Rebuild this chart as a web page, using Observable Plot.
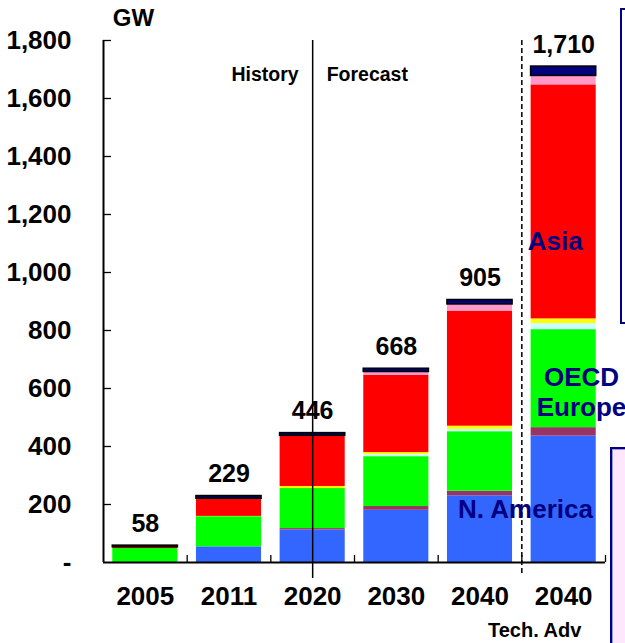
<!DOCTYPE html>
<html>
<head>
<meta charset="utf-8">
<script src="https://cdn.jsdelivr.net/npm/d3@7"></script>
<script src="https://cdn.jsdelivr.net/npm/@observablehq/plot@0.6"></script>
<style>
  html, body { margin: 0; padding: 0; background: white; overflow: hidden; }
  #wrap { position: relative; width: 625px; height: 643px; }
  .box { position: absolute; box-sizing: border-box; }
</style>
</head>
<body>
<div id="wrap"></div>
<script>
// Categories (x positions are indices 0..5)
const categories = ["2005", "2011", "2020", "2030", "2040", "2040"];
const subLabels = ["", "", "", "", "", "Tech. Adv"];
const totals = [58, 229, 446, 668, 905, 1710];

// Series (stack order bottom -> top), GW
const seriesNames = ["N. America", "Latin America", "OECD Europe", "Eurasia", "Middle East", "Asia", "OECD Pacific", "Other"];
const seriesColors = ["#3366FF", "#993366", "#00FF00", "#CCFFFF", "#FFFF00", "#FF0000", "#FF99CC", "#000080"];
const nAmerica     = [0,   54,  112, 180, 230, 436];
const latinAmerica = [0,   0,   5,   13,  16,  29];
const oecdEurope   = [48,  104, 138, 172, 205, 338];
const eurasia      = [0,   0,   0,   7,   8,   21];
const middleEast   = [0,   1,   7,   7,   11,  16];
const asia         = [5,   61,  175, 267, 397, 807];
const oecdPacific  = [0,   0,   0,   11,  23,  31];
const other        = [5,   9,   9,   11,  15,  32];
const seriesValues = [nAmerica, latinAmerica, oecdEurope, eurasia, middleEast, asia, oecdPacific, other];

const yTicks = [0, 200, 400, 600, 800, 1000, 1200, 1400, 1600, 1800];

// Inline region labels (x index, y GW)
const regionLabels = [
  {text: "Asia", x: 4.9, y: 1110},
  {text: "OECD\nEurope", x: 5.213, y: 590},
  {text: "N. America", x: 4.544, y: 186}
];

// Build stacked rectangles
const half = 0.389;
const segs = [];
categories.forEach((c, i) => {
  let acc = 0;
  seriesValues.forEach((vals, s) => {
    const v = vals[i];
    if (v > 0) {
      segs.push({i, series: seriesNames[s], color: seriesColors[s], y1: acc, y2: acc + v, isTop: s === seriesValues.length - 1});
    }
    acc += v;
  });
});

const idx = categories.map((c, i) => i);
const fmt = d => d === 0 ? "-" : d3.format(",")(d);
const boundaries = [0.5, 1.5, 2.5, 3.5, 4.5, 5.5];

const chart = Plot.plot({
  width: 625,
  height: 643,
  marginTop: 40,
  marginBottom: 81,
  marginLeft: 103,
  marginRight: 20,
  x: {domain: [-0.5, 5.5], axis: null},
  y: {domain: [0, 1800], axis: null},
  style: {fontFamily: "'Liberation Sans', Arial, sans-serif", fontWeight: "bold", background: "white", color: "black", overflow: "visible"},
  marks: [
    Plot.rectY(segs.filter(d => !d.isTop), {x1: d => d.i - half, x2: d => d.i + half, y1: "y1", y2: "y2", fill: "color"}),
    Plot.rectY(segs.filter(d => d.isTop), {x1: d => d.i - half, x2: d => d.i + half, y1: "y1", y2: "y2", fill: "color", stroke: "black", strokeWidth: 1.6}),
    // axes
    Plot.ruleX([-0.5], {y1: 0, y2: 1800, stroke: "black", strokeWidth: 2}),
    Plot.ruleY([0], {x1: -0.5, x2: 5.5, stroke: "black", strokeWidth: 2}),
    Plot.ruleY(yTicks.filter(d => d > 0), {x1: -0.5, x2: -0.5 + 8 / 83.67, stroke: "black", strokeWidth: 1.3}),
    Plot.ruleX(boundaries, {y1: 0, y2: 24, stroke: "black", strokeWidth: 1.3}),
    Plot.text(yTicks, {x: -0.5, y: d => d, text: fmt, textAnchor: "end", dx: -32, fontSize: 26, fontWeight: "bold", fill: "black"}),
    Plot.text(["GW"], {x: -0.5, y: 1800, text: d => d, dx: 30, dy: -22.5, fontSize: 24, fontWeight: "bold", fill: "black"}),
    // x labels
    Plot.text(idx, {x: d => d, y: 0, text: d => categories[d], dy: 34.5, fontSize: 26, fontWeight: "bold", fill: "black"}),
    Plot.text(idx.filter(d => subLabels[d]), {x: d => d, y: 0, text: d => subLabels[d], dx: -29, dy: 68, fontSize: 20, fontWeight: "bold", fill: "black"}),
    // history / forecast separators
    Plot.ruleX([2], {y1: 1800, y2: -55, stroke: "black", strokeWidth: 1.5}),
    Plot.ruleX([4.5], {y1: 1800, y2: -45, stroke: "black", strokeWidth: 1.5, strokeDasharray: "5,3"}),
    Plot.text(["History"], {x: 2, y: 1800, text: d => d, textAnchor: "end", dx: -14, dy: 34.5, fontSize: 19.5, fontWeight: "bold", fill: "black"}),
    Plot.text(["Forecast"], {x: 2, y: 1800, text: d => d, textAnchor: "start", dx: 14, dy: 34.5, fontSize: 19.5, fontWeight: "bold", fill: "black"}),
    // totals
    Plot.text(idx, {x: d => d, y: d => totals[d], text: d => d3.format(",")(totals[d]), dy: -22, fontSize: 25, fontWeight: "bold", fill: "black"}),
    // region labels
    Plot.text(regionLabels, {x: "x", y: "y", text: "text", fontSize: 26, fontWeight: "bold", fill: "#000080", lineHeight: 1.15})
  ]
});

const wrap = document.getElementById("wrap");
wrap.appendChild(chart);

const boxTop = document.createElement("div");
boxTop.className = "box";
Object.assign(boxTop.style, {left: "620px", top: "8px", width: "30px", height: "316px", border: "2px solid #000080", background: "white"});
wrap.appendChild(boxTop);

const boxBottom = document.createElement("div");
boxBottom.className = "box";
Object.assign(boxBottom.style, {left: "610px", top: "447px", width: "40px", height: "230px", border: "2px solid #000080", outline: "1px solid #9999dd", outlineOffset: "-3px", background: "#FFE8FF"});
wrap.appendChild(boxBottom);
</script>
</body>
</html>
